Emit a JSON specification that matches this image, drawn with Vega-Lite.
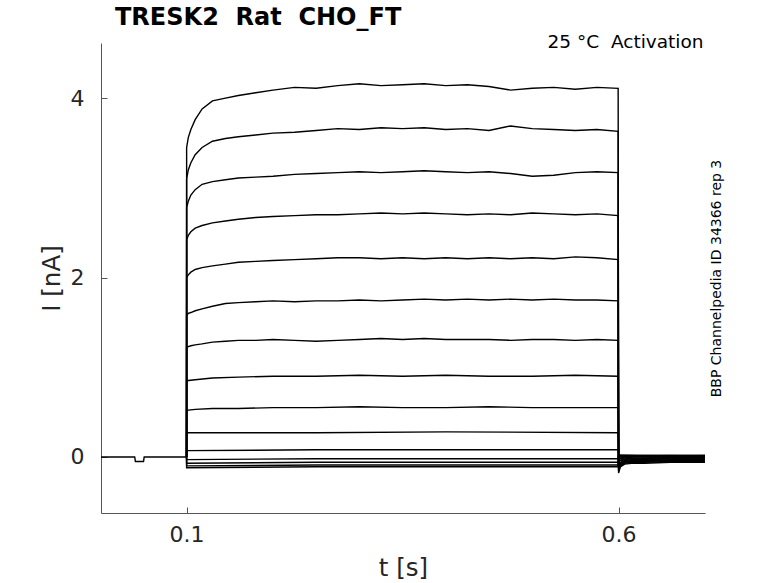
{
  "$schema": "https://vega.github.io/schema/vega-lite/v6.json",
  "width": 604,
  "height": 470,
  "autosize": {"type": "none"},
  "padding": {"left": 101, "top": 43, "right": 73, "bottom": 70},
  "background": "white",
  "config": {
    "view": {"stroke": null},
    "font": "DejaVu Sans",
    "axis": {
      "grid": false,
      "domainColor": "#555555",
      "domainWidth": 1,
      "tickColor": "#555555",
      "tickSize": -6,
      "labelFont": "DejaVu Sans",
      "labelFontSize": 22,
      "labelColor": "#262626",
      "titleFont": "DejaVu Sans",
      "titleFontSize": 24.5,
      "titleFontWeight": "normal",
      "titleColor": "#262626"
    }
  },
  "title": {
    "text": "TRESK2 \u00a0Rat \u00a0CHO_FT",
    "anchor": "start",
    "frame": "group",
    "font": "DejaVu Sans",
    "fontSize": 24,
    "fontWeight": "bold",
    "color": "black",
    "dx": 14,
    "dy": 32,
    "offset": 16,
    "baseline": "alphabetic"
  },
  "data": {
    "values": [
      {"s": "h", "t": 0.001, "i": 0}, {"s": "h", "t": 0.04, "i": 0}, {"s": "h", "t": 0.0408, "i": -0.05}, {"s": "h", "t": 0.0502, "i": -0.05}, {"s": "h", "t": 0.051, "i": 0}, {"s": "h", "t": 0.1, "i": 0},

      {"s": "1", "t": 0.1, "i": 0}, {"s": "1", "t": 0.1001, "i": 3.45}, {"s": "1", "t": 0.102, "i": 3.56}, {"s": "1", "t": 0.105, "i": 3.65}, {"s": "1", "t": 0.11, "i": 3.76}, {"s": "1", "t": 0.118, "i": 3.88}, {"s": "1", "t": 0.13, "i": 3.97}, {"s": "1", "t": 0.145, "i": 4.0}, {"s": "1", "t": 0.16, "i": 4.03}, {"s": "1", "t": 0.18, "i": 4.06}, {"s": "1", "t": 0.2, "i": 4.09}, {"s": "1", "t": 0.225, "i": 4.12}, {"s": "1", "t": 0.25, "i": 4.11}, {"s": "1", "t": 0.275, "i": 4.14}, {"s": "1", "t": 0.3, "i": 4.16}, {"s": "1", "t": 0.325, "i": 4.14}, {"s": "1", "t": 0.35, "i": 4.15}, {"s": "1", "t": 0.375, "i": 4.16}, {"s": "1", "t": 0.4, "i": 4.14}, {"s": "1", "t": 0.425, "i": 4.15}, {"s": "1", "t": 0.45, "i": 4.13}, {"s": "1", "t": 0.475, "i": 4.09}, {"s": "1", "t": 0.5, "i": 4.11}, {"s": "1", "t": 0.525, "i": 4.12}, {"s": "1", "t": 0.55, "i": 4.1}, {"s": "1", "t": 0.575, "i": 4.12}, {"s": "1", "t": 0.5995, "i": 4.11}, {"s": "1", "t": 0.6, "i": -0.18}, {"s": "1", "t": 0.602, "i": -0.11}, {"s": "1", "t": 0.607, "i": -0.08}, {"s": "1", "t": 0.615, "i": -0.07}, {"s": "1", "t": 0.63, "i": -0.07}, {"s": "1", "t": 0.66, "i": -0.06}, {"s": "1", "t": 0.7, "i": -0.06},

      {"s": "2", "t": 0.1, "i": 0}, {"s": "2", "t": 0.1001, "i": 3.1}, {"s": "2", "t": 0.102, "i": 3.2}, {"s": "2", "t": 0.105, "i": 3.28}, {"s": "2", "t": 0.11, "i": 3.37}, {"s": "2", "t": 0.118, "i": 3.45}, {"s": "2", "t": 0.13, "i": 3.52}, {"s": "2", "t": 0.145, "i": 3.55}, {"s": "2", "t": 0.16, "i": 3.57}, {"s": "2", "t": 0.18, "i": 3.59}, {"s": "2", "t": 0.2, "i": 3.61}, {"s": "2", "t": 0.225, "i": 3.62}, {"s": "2", "t": 0.25, "i": 3.64}, {"s": "2", "t": 0.275, "i": 3.66}, {"s": "2", "t": 0.3, "i": 3.65}, {"s": "2", "t": 0.325, "i": 3.67}, {"s": "2", "t": 0.35, "i": 3.66}, {"s": "2", "t": 0.375, "i": 3.67}, {"s": "2", "t": 0.4, "i": 3.65}, {"s": "2", "t": 0.425, "i": 3.66}, {"s": "2", "t": 0.45, "i": 3.64}, {"s": "2", "t": 0.475, "i": 3.69}, {"s": "2", "t": 0.5, "i": 3.66}, {"s": "2", "t": 0.525, "i": 3.65}, {"s": "2", "t": 0.55, "i": 3.64}, {"s": "2", "t": 0.575, "i": 3.65}, {"s": "2", "t": 0.5995, "i": 3.63}, {"s": "2", "t": 0.6, "i": -0.16}, {"s": "2", "t": 0.602, "i": -0.1}, {"s": "2", "t": 0.607, "i": -0.07}, {"s": "2", "t": 0.615, "i": -0.06}, {"s": "2", "t": 0.63, "i": -0.06}, {"s": "2", "t": 0.66, "i": -0.05}, {"s": "2", "t": 0.7, "i": -0.05},

      {"s": "3", "t": 0.1, "i": 0}, {"s": "3", "t": 0.1001, "i": 2.78}, {"s": "3", "t": 0.102, "i": 2.85}, {"s": "3", "t": 0.105, "i": 2.92}, {"s": "3", "t": 0.11, "i": 2.98}, {"s": "3", "t": 0.118, "i": 3.04}, {"s": "3", "t": 0.13, "i": 3.07}, {"s": "3", "t": 0.145, "i": 3.09}, {"s": "3", "t": 0.16, "i": 3.11}, {"s": "3", "t": 0.18, "i": 3.12}, {"s": "3", "t": 0.2, "i": 3.13}, {"s": "3", "t": 0.225, "i": 3.15}, {"s": "3", "t": 0.25, "i": 3.16}, {"s": "3", "t": 0.275, "i": 3.17}, {"s": "3", "t": 0.3, "i": 3.18}, {"s": "3", "t": 0.325, "i": 3.17}, {"s": "3", "t": 0.35, "i": 3.18}, {"s": "3", "t": 0.375, "i": 3.19}, {"s": "3", "t": 0.4, "i": 3.18}, {"s": "3", "t": 0.425, "i": 3.17}, {"s": "3", "t": 0.45, "i": 3.18}, {"s": "3", "t": 0.475, "i": 3.16}, {"s": "3", "t": 0.5, "i": 3.13}, {"s": "3", "t": 0.525, "i": 3.14}, {"s": "3", "t": 0.55, "i": 3.17}, {"s": "3", "t": 0.575, "i": 3.18}, {"s": "3", "t": 0.5995, "i": 3.17}, {"s": "3", "t": 0.6, "i": -0.14}, {"s": "3", "t": 0.602, "i": -0.09}, {"s": "3", "t": 0.607, "i": -0.06}, {"s": "3", "t": 0.615, "i": -0.05}, {"s": "3", "t": 0.63, "i": -0.05}, {"s": "3", "t": 0.66, "i": -0.04}, {"s": "3", "t": 0.7, "i": -0.05},

      {"s": "4", "t": 0.1, "i": 0}, {"s": "4", "t": 0.1001, "i": 2.42}, {"s": "4", "t": 0.102, "i": 2.47}, {"s": "4", "t": 0.105, "i": 2.51}, {"s": "4", "t": 0.11, "i": 2.55}, {"s": "4", "t": 0.118, "i": 2.58}, {"s": "4", "t": 0.13, "i": 2.61}, {"s": "4", "t": 0.145, "i": 2.63}, {"s": "4", "t": 0.16, "i": 2.65}, {"s": "4", "t": 0.18, "i": 2.67}, {"s": "4", "t": 0.2, "i": 2.68}, {"s": "4", "t": 0.225, "i": 2.69}, {"s": "4", "t": 0.25, "i": 2.7}, {"s": "4", "t": 0.275, "i": 2.7}, {"s": "4", "t": 0.3, "i": 2.71}, {"s": "4", "t": 0.325, "i": 2.72}, {"s": "4", "t": 0.35, "i": 2.71}, {"s": "4", "t": 0.375, "i": 2.72}, {"s": "4", "t": 0.4, "i": 2.71}, {"s": "4", "t": 0.425, "i": 2.7}, {"s": "4", "t": 0.45, "i": 2.71}, {"s": "4", "t": 0.475, "i": 2.7}, {"s": "4", "t": 0.5, "i": 2.72}, {"s": "4", "t": 0.525, "i": 2.71}, {"s": "4", "t": 0.55, "i": 2.7}, {"s": "4", "t": 0.575, "i": 2.71}, {"s": "4", "t": 0.5995, "i": 2.69}, {"s": "4", "t": 0.6, "i": -0.12}, {"s": "4", "t": 0.602, "i": -0.08}, {"s": "4", "t": 0.607, "i": -0.05}, {"s": "4", "t": 0.615, "i": -0.05}, {"s": "4", "t": 0.63, "i": -0.04}, {"s": "4", "t": 0.66, "i": -0.04}, {"s": "4", "t": 0.7, "i": -0.04},

      {"s": "5", "t": 0.1, "i": 0}, {"s": "5", "t": 0.1001, "i": 2.0}, {"s": "5", "t": 0.102, "i": 2.03}, {"s": "5", "t": 0.105, "i": 2.06}, {"s": "5", "t": 0.11, "i": 2.09}, {"s": "5", "t": 0.118, "i": 2.11}, {"s": "5", "t": 0.13, "i": 2.13}, {"s": "5", "t": 0.145, "i": 2.15}, {"s": "5", "t": 0.16, "i": 2.17}, {"s": "5", "t": 0.18, "i": 2.18}, {"s": "5", "t": 0.2, "i": 2.19}, {"s": "5", "t": 0.225, "i": 2.2}, {"s": "5", "t": 0.25, "i": 2.21}, {"s": "5", "t": 0.275, "i": 2.22}, {"s": "5", "t": 0.3, "i": 2.22}, {"s": "5", "t": 0.325, "i": 2.21}, {"s": "5", "t": 0.35, "i": 2.22}, {"s": "5", "t": 0.375, "i": 2.21}, {"s": "5", "t": 0.4, "i": 2.22}, {"s": "5", "t": 0.425, "i": 2.21}, {"s": "5", "t": 0.45, "i": 2.22}, {"s": "5", "t": 0.475, "i": 2.21}, {"s": "5", "t": 0.5, "i": 2.22}, {"s": "5", "t": 0.525, "i": 2.21}, {"s": "5", "t": 0.55, "i": 2.23}, {"s": "5", "t": 0.575, "i": 2.22}, {"s": "5", "t": 0.5995, "i": 2.2}, {"s": "5", "t": 0.6, "i": -0.1}, {"s": "5", "t": 0.602, "i": -0.07}, {"s": "5", "t": 0.607, "i": -0.05}, {"s": "5", "t": 0.615, "i": -0.04}, {"s": "5", "t": 0.63, "i": -0.04}, {"s": "5", "t": 0.66, "i": -0.03}, {"s": "5", "t": 0.7, "i": -0.03},

      {"s": "6", "t": 0.1, "i": 0}, {"s": "6", "t": 0.1001, "i": 1.58}, {"s": "6", "t": 0.102, "i": 1.6}, {"s": "6", "t": 0.105, "i": 1.61}, {"s": "6", "t": 0.11, "i": 1.63}, {"s": "6", "t": 0.118, "i": 1.65}, {"s": "6", "t": 0.13, "i": 1.68}, {"s": "6", "t": 0.145, "i": 1.71}, {"s": "6", "t": 0.16, "i": 1.72}, {"s": "6", "t": 0.18, "i": 1.73}, {"s": "6", "t": 0.2, "i": 1.74}, {"s": "6", "t": 0.225, "i": 1.73}, {"s": "6", "t": 0.25, "i": 1.74}, {"s": "6", "t": 0.275, "i": 1.74}, {"s": "6", "t": 0.3, "i": 1.75}, {"s": "6", "t": 0.325, "i": 1.74}, {"s": "6", "t": 0.35, "i": 1.75}, {"s": "6", "t": 0.375, "i": 1.76}, {"s": "6", "t": 0.4, "i": 1.75}, {"s": "6", "t": 0.425, "i": 1.76}, {"s": "6", "t": 0.45, "i": 1.75}, {"s": "6", "t": 0.475, "i": 1.76}, {"s": "6", "t": 0.5, "i": 1.75}, {"s": "6", "t": 0.525, "i": 1.76}, {"s": "6", "t": 0.55, "i": 1.75}, {"s": "6", "t": 0.575, "i": 1.75}, {"s": "6", "t": 0.5995, "i": 1.74}, {"s": "6", "t": 0.6, "i": -0.08}, {"s": "6", "t": 0.602, "i": -0.06}, {"s": "6", "t": 0.607, "i": -0.04}, {"s": "6", "t": 0.615, "i": -0.03}, {"s": "6", "t": 0.63, "i": -0.03}, {"s": "6", "t": 0.66, "i": -0.02}, {"s": "6", "t": 0.7, "i": -0.03},

      {"s": "7", "t": 0.1, "i": 0}, {"s": "7", "t": 0.1001, "i": 1.22}, {"s": "7", "t": 0.102, "i": 1.23}, {"s": "7", "t": 0.105, "i": 1.24}, {"s": "7", "t": 0.11, "i": 1.25}, {"s": "7", "t": 0.118, "i": 1.26}, {"s": "7", "t": 0.13, "i": 1.28}, {"s": "7", "t": 0.145, "i": 1.29}, {"s": "7", "t": 0.16, "i": 1.3}, {"s": "7", "t": 0.18, "i": 1.3}, {"s": "7", "t": 0.2, "i": 1.31}, {"s": "7", "t": 0.225, "i": 1.3}, {"s": "7", "t": 0.25, "i": 1.29}, {"s": "7", "t": 0.275, "i": 1.3}, {"s": "7", "t": 0.3, "i": 1.31}, {"s": "7", "t": 0.325, "i": 1.32}, {"s": "7", "t": 0.35, "i": 1.31}, {"s": "7", "t": 0.375, "i": 1.32}, {"s": "7", "t": 0.4, "i": 1.31}, {"s": "7", "t": 0.425, "i": 1.31}, {"s": "7", "t": 0.45, "i": 1.31}, {"s": "7", "t": 0.475, "i": 1.3}, {"s": "7", "t": 0.5, "i": 1.31}, {"s": "7", "t": 0.525, "i": 1.31}, {"s": "7", "t": 0.55, "i": 1.3}, {"s": "7", "t": 0.575, "i": 1.31}, {"s": "7", "t": 0.5995, "i": 1.3}, {"s": "7", "t": 0.6, "i": -0.06}, {"s": "7", "t": 0.602, "i": -0.04}, {"s": "7", "t": 0.607, "i": -0.03}, {"s": "7", "t": 0.615, "i": -0.02}, {"s": "7", "t": 0.63, "i": -0.02}, {"s": "7", "t": 0.66, "i": -0.02}, {"s": "7", "t": 0.7, "i": -0.02},

      {"s": "8", "t": 0.1, "i": 0}, {"s": "8", "t": 0.1001, "i": 0.85}, {"s": "8", "t": 0.11, "i": 0.86}, {"s": "8", "t": 0.13, "i": 0.88}, {"s": "8", "t": 0.16, "i": 0.89}, {"s": "8", "t": 0.2, "i": 0.9}, {"s": "8", "t": 0.25, "i": 0.9}, {"s": "8", "t": 0.3, "i": 0.91}, {"s": "8", "t": 0.35, "i": 0.9}, {"s": "8", "t": 0.4, "i": 0.91}, {"s": "8", "t": 0.45, "i": 0.9}, {"s": "8", "t": 0.5, "i": 0.9}, {"s": "8", "t": 0.55, "i": 0.91}, {"s": "8", "t": 0.5995, "i": 0.9}, {"s": "8", "t": 0.6, "i": -0.04}, {"s": "8", "t": 0.61, "i": -0.02}, {"s": "8", "t": 0.65, "i": -0.01}, {"s": "8", "t": 0.7, "i": -0.01},

      {"s": "9", "t": 0.1, "i": 0}, {"s": "9", "t": 0.1001, "i": 0.52}, {"s": "9", "t": 0.11, "i": 0.53}, {"s": "9", "t": 0.13, "i": 0.54}, {"s": "9", "t": 0.16, "i": 0.54}, {"s": "9", "t": 0.2, "i": 0.55}, {"s": "9", "t": 0.25, "i": 0.55}, {"s": "9", "t": 0.3, "i": 0.56}, {"s": "9", "t": 0.35, "i": 0.55}, {"s": "9", "t": 0.4, "i": 0.55}, {"s": "9", "t": 0.45, "i": 0.56}, {"s": "9", "t": 0.5, "i": 0.55}, {"s": "9", "t": 0.55, "i": 0.55}, {"s": "9", "t": 0.5995, "i": 0.55}, {"s": "9", "t": 0.6, "i": -0.02}, {"s": "9", "t": 0.61, "i": -0.01}, {"s": "9", "t": 0.65, "i": -0.01}, {"s": "9", "t": 0.7, "i": 0},

      {"s": "10", "t": 0.1, "i": 0}, {"s": "10", "t": 0.1001, "i": 0.27}, {"s": "10", "t": 0.25, "i": 0.27}, {"s": "10", "t": 0.4, "i": 0.28}, {"s": "10", "t": 0.5995, "i": 0.27}, {"s": "10", "t": 0.6, "i": -0.01}, {"s": "10", "t": 0.62, "i": 0}, {"s": "10", "t": 0.66, "i": 0}, {"s": "10", "t": 0.7, "i": 0},
      {"s": "11", "t": 0.1, "i": 0}, {"s": "11", "t": 0.1001, "i": 0.07}, {"s": "11", "t": 0.25, "i": 0.08}, {"s": "11", "t": 0.4, "i": 0.08}, {"s": "11", "t": 0.5995, "i": 0.08}, {"s": "11", "t": 0.6, "i": 0}, {"s": "11", "t": 0.62, "i": 0.01}, {"s": "11", "t": 0.66, "i": 0}, {"s": "11", "t": 0.7, "i": 0.01},
      {"s": "12", "t": 0.1, "i": 0}, {"s": "12", "t": 0.1001, "i": -0.03}, {"s": "12", "t": 0.25, "i": -0.02}, {"s": "12", "t": 0.4, "i": -0.02}, {"s": "12", "t": 0.5995, "i": -0.02}, {"s": "12", "t": 0.6, "i": 0.01}, {"s": "12", "t": 0.62, "i": 0.01}, {"s": "12", "t": 0.66, "i": 0.01}, {"s": "12", "t": 0.7, "i": 0.01},
      {"s": "13", "t": 0.1, "i": 0}, {"s": "13", "t": 0.1001, "i": -0.07}, {"s": "13", "t": 0.25, "i": -0.06}, {"s": "13", "t": 0.4, "i": -0.06}, {"s": "13", "t": 0.5995, "i": -0.06}, {"s": "13", "t": 0.6, "i": 0.01}, {"s": "13", "t": 0.62, "i": 0.015}, {"s": "13", "t": 0.66, "i": 0.01}, {"s": "13", "t": 0.7, "i": 0.015},
      {"s": "14", "t": 0.1, "i": 0}, {"s": "14", "t": 0.1001, "i": -0.1}, {"s": "14", "t": 0.25, "i": -0.09}, {"s": "14", "t": 0.4, "i": -0.09}, {"s": "14", "t": 0.5995, "i": -0.09}, {"s": "14", "t": 0.6, "i": 0.02}, {"s": "14", "t": 0.62, "i": 0.015}, {"s": "14", "t": 0.66, "i": 0.02}, {"s": "14", "t": 0.7, "i": 0.015},
      {"s": "15", "t": 0.1, "i": 0}, {"s": "15", "t": 0.1001, "i": -0.12}, {"s": "15", "t": 0.25, "i": -0.11}, {"s": "15", "t": 0.4, "i": -0.11}, {"s": "15", "t": 0.5995, "i": -0.11}, {"s": "15", "t": 0.6, "i": 0.02}, {"s": "15", "t": 0.62, "i": 0.02}, {"s": "15", "t": 0.66, "i": 0.015}, {"s": "15", "t": 0.7, "i": 0.02}
    ]
  },
  "layer": [
    {
      "transform": [{"filter": "datum.s !== 'h'"}],
      "mark": {"type": "line", "color": "black", "strokeWidth": 1.4, "clip": true},
      "encoding": {
        "x": {
          "field": "t",
          "type": "quantitative",
          "scale": {"domain": [0.001, 0.7], "nice": false, "zero": false},
          "axis": {
            "orient": "bottom",
            "values": [0.1, 0.6],
            "title": "t [s]",
            "labelPadding": 17.5,
            "titleBaseline": "alphabetic",
            "titleY": 62
          }
        },
        "y": {
          "field": "i",
          "type": "quantitative",
          "scale": {"domain": [-0.625, 4.615], "nice": false, "zero": false},
          "axis": {
            "orient": "left",
            "values": [0, 2, 4],
            "title": "I [nA]",
            "labelPadding": 23,
            "titleBaseline": "alphabetic",
            "titleX": -42,
            "titleY": 235
          }
        },
        "detail": {"field": "s"}
      }
    },
    {
      "transform": [{"filter": "datum.s === 'h'"}],
      "mark": {"type": "line", "color": "black", "strokeWidth": 1.4, "clip": true},
      "encoding": {
        "x": {
          "field": "t",
          "type": "quantitative",
          "axis": {
            "orient": "top",
            "title": "25 °C \u00a0Activation",
            "labels": false,
            "ticks": false,
            "domain": false,
            "titleFontSize": 18.5,
            "titleColor": "black",
            "titleAlign": "right",
            "titleBaseline": "alphabetic",
            "titleX": 602,
            "titleY": 4.5
          }
        },
        "y": {
          "field": "i",
          "type": "quantitative",
          "axis": {
            "orient": "right",
            "title": "BBP Channelpedia ID 34366 rep 3",
            "labels": false,
            "ticks": false,
            "domain": false,
            "titleFontSize": 14,
            "titleColor": "black",
            "titleAngle": 270,
            "titleAlign": "center",
            "titleBaseline": "alphabetic",
            "titleX": 15,
            "titleY": 235
          }
        }
      }
    }
  ],
  "resolve": {"axis": {"x": "independent", "y": "independent"}}
}
